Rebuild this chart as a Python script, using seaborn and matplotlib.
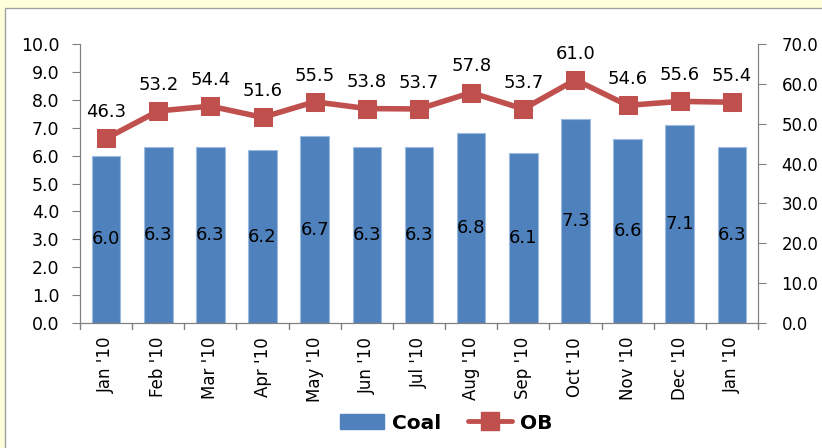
import matplotlib
matplotlib.use("Agg")
import matplotlib.pyplot as plt
import seaborn as sns
import pandas as pd
from matplotlib.patches import Rectangle, Patch
from matplotlib.lines import Line2D

months = ["Jan '10", "Feb '10", "Mar '10", "Apr '10", "May '10", "Jun '10", "Jul '10",
          "Aug '10", "Sep '10", "Oct '10", "Nov '10", "Dec '10", "Jan '10"]
coal = [6.0, 6.3, 6.3, 6.2, 6.7, 6.3, 6.3, 6.8, 6.1, 7.3, 6.6, 7.1, 6.3]
ob = [46.3, 53.2, 54.4, 51.6, 55.5, 53.8, 53.7, 57.8, 53.7, 61.0, 54.6, 55.6, 55.4]

BLUE = "#4F81BD"
RED = "#C0504D"

sns.set_style("white")
plt.rcParams["font.family"] = ["DejaVu Sans"]
plt.rcParams["text.color"] = "black"
plt.rcParams["xtick.color"] = "black"
plt.rcParams["ytick.color"] = "black"

df = pd.DataFrame({"pos": range(len(months)), "coal": coal, "ob": ob})

fig = plt.figure(figsize=(8.22, 4.48), dpi=100)
fig.patch.set_facecolor("#FFFFDC")
fig.add_artist(Rectangle((5 / 822, -0.01), 1.0, 1.01 - 8 / 448, transform=fig.transFigure,
                         facecolor="white", edgecolor="#A0A0A0", lw=1, zorder=-10))

ax = fig.add_axes([80 / 822, 125 / 448, 678 / 822, 279 / 448])
ax.set_facecolor("none")
sns.barplot(data=df, x="pos", y="coal", color=BLUE, width=0.55, saturation=1,
            edgecolor="#9DBBE0", linewidth=0.8, ax=ax)
ax.set_ylim(0, 10)
ax.set_yticks([i for i in range(11)])
ax.set_yticklabels([f"{i:.1f}" for i in range(11)], fontsize=12.5)
ax.set_xlim(-0.5, len(months) - 0.5)
ax.set_xticks(range(len(months)))
ax.set_xticklabels(months, rotation=90, fontsize=12)
ax.tick_params(axis="x", length=0, pad=10, colors="black")
ax.tick_params(axis="y", length=6, color="#808080", left=True, pad=9, labelcolor="black")
for b in [i - 0.5 for i in range(len(months) + 1)]:
    ax.plot([b, b], [0, -0.2], color="#808080", lw=1, clip_on=False)
ax.set_xlabel("")
ax.set_ylabel("")
for v, x in zip(coal, range(len(coal))):
    ax.text(x, v / 2, f"{v:.1f}", ha="center", va="center", fontsize=13)

ax2 = ax.twinx()
sns.lineplot(data=df, x="pos", y="ob", color=RED, lw=4, marker="s", markersize=13,
             markeredgecolor=RED, ax=ax2, zorder=5)
ax2.set_ylim(0, 70)
ax2.set_yticks(range(0, 71, 10))
ax2.set_yticklabels([f"{i:.1f}" for i in range(0, 71, 10)], fontsize=12)
ax2.tick_params(axis="y", length=6, color="#808080", right=True, pad=11, labelcolor="black")
ax2.set_xlabel("")
ax2.set_ylabel("")
for v, x in zip(ob, range(len(ob))):
    ax2.text(x, v + 4.3, f"{v:.1f}", ha="center", va="bottom", fontsize=13)

for a in (ax, ax2):
    a.spines["top"].set_visible(False)
    for s in ("left", "right", "bottom"):
        a.spines[s].set_color("#808080")

handles = [Patch(facecolor=BLUE, edgecolor=BLUE),
           Line2D([0], [0], color=RED, lw=3.5, marker="s", markersize=13)]
fig.legend(handles, ["Coal", "OB"], loc="center", bbox_to_anchor=(0.543, 1 - 423 / 448),
           ncol=2, frameon=False, prop={"weight": "bold", "size": 14.5},
           handlelength=2.2, handletextpad=0.4, columnspacing=1.3)

fig.savefig("out.png", dpi=100, facecolor=fig.get_facecolor())
